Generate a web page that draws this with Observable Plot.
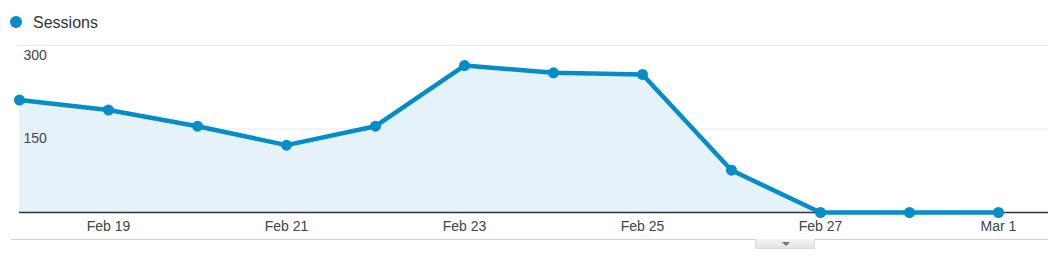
<!DOCTYPE html>
<html>
<head>
<meta charset="utf-8">
<script src="https://cdn.jsdelivr.net/npm/d3@7"></script>
<script src="https://cdn.jsdelivr.net/npm/@observablehq/plot@0.6"></script>
<style>
  body { margin: 0; background: #fff; font-family: "Liberation Sans", Arial, sans-serif; }
  #wrap { position: relative; width: 1048px; height: 262px; overflow: hidden; }
  #legend { height: 40px; position: relative; }
  #legend .dot { position: absolute; left: 10px; top: 16px; width: 12px; height: 12px; border-radius: 50%; background: #058dc7; }
  #legend .lab { position: absolute; left: 33px; top: 14px; font-size: 16px; color: #333; line-height: 18px; }
  #chart svg { display: block; }
  #bottomline { position: absolute; left: 11px; top: 239px; width: 1037px; height: 1px; background: #d0d0d0; }
  #btn { position: absolute; left: 755px; top: 239px; width: 60px; height: 10px; background: linear-gradient(#f4f4f4, #e4e4e4); border: 1px solid #dcdcdc; border-top: none; box-sizing: border-box; }
  #btn::after { content: ""; position: absolute; left: 26px; top: 3px; border-left: 4px solid transparent; border-right: 4px solid transparent; border-top: 4px solid #777; }
</style>
</head>
<body>
<div id="wrap">
  <div id="legend"><div class="dot"></div><div class="lab">Sessions</div></div>
  <div id="chart"></div>
  <div id="bottomline"></div>
  <div id="btn"></div>
</div>
<script>
const dates = ["2015-02-18","2015-02-19","2015-02-20","2015-02-21","2015-02-22","2015-02-23","2015-02-24","2015-02-25","2015-02-26","2015-02-27","2015-02-28","2015-03-01"];
const sessions = [202, 184, 155, 121, 155, 264, 251, 248, 76, 0, 0, 0];
const yTicks = [150, 300];
const xTickDates = ["2015-02-19","2015-02-21","2015-02-23","2015-02-25","2015-02-27","2015-03-01"];

const data = dates.map((d, i) => ({date: new Date(d + "T00:00:00Z"), value: sessions[i]}));
const xStart = data[0].date;
const xEnd = new Date(data[data.length - 1].date.getTime() + 12 * 3600 * 1000 * 1.124);

const chart = Plot.plot({
  width: 1048,
  height: 222,
  marginLeft: 19,
  marginRight: 0,
  marginTop: 5,
  marginBottom: 50,
  style: { fontFamily: "'Liberation Sans', Arial, sans-serif", fontSize: "14px", color: "#444", background: "#fff" },
  x: { type: "utc", domain: [xStart, xEnd] },
  y: { domain: [0, 300], axis: null },
  marks: [
    Plot.ruleY(yTicks, { stroke: "#e8e8e8", strokeWidth: 1 }),
    Plot.areaY(data, { x: "date", y: "value", fill: "#e5f2f9" }),
    Plot.ruleY([0], { stroke: "#333", strokeWidth: 1.5 }),
    Plot.lineY(data, { x: "date", y: "value", stroke: "#058dc7", strokeWidth: 4.5, strokeLinejoin: "round" }),
    Plot.dot(data, { x: "date", y: "value", r: 5.5, fill: "#058dc7", stroke: "none" }),
    Plot.text(yTicks, { x: () => xStart, y: d => d, text: d => String(d), dx: 4, dy: 10, textAnchor: "start", fill: "#444", fontSize: 14 }),
    Plot.axisX({ ticks: xTickDates.map(d => new Date(d + "T00:00:00Z")), tickSize: 0, tickPadding: 9, tickFormat: d3.utcFormat("%b %-d"), label: null, fill: "#444", fontSize: 14 })
  ]
});
document.getElementById("chart").appendChild(chart);
</script>
</body>
</html>
